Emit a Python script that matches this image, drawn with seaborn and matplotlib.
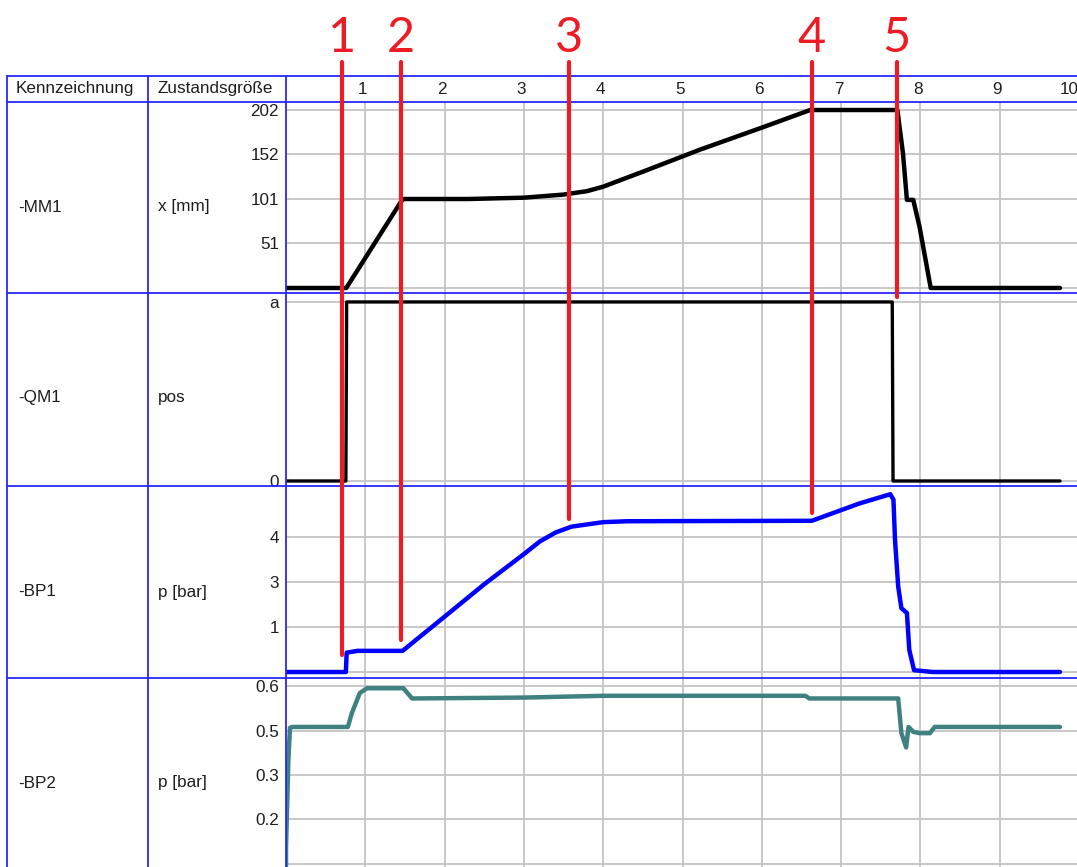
import seaborn as sns
import matplotlib.pyplot as plt
from matplotlib.lines import Line2D
from matplotlib.transforms import blended_transform_factory

sns.set_style("white")
plt.rcParams["font.family"] = ["Liberation Sans", "DejaVu Sans"]

# --- data (time in s, values in the diagram's own units) ---
x_ticks = [1, 2, 3, 4, 5, 6, 7, 8, 9, 10]

mm1_t = [0, 0.76, 1.45, 1.48, 2.3, 3.0, 3.5, 3.8, 4.0, 4.5, 5.22, 6.0, 6.61,
         7.71, 7.78, 7.83, 7.91, 7.99, 8.13, 9.76]
mm1_x = [0, 0, 98, 101, 101, 102.5, 106, 110, 115, 132, 157, 182, 202,
         202, 153, 100, 100, 69, 0, 0]

qm1_t = [0, 0.755, 0.765, 7.645, 7.655, 9.76]
qm1_pos = [0, 0, 1, 1, 0, 0]

bp1_t = [0, 0.755, 0.765, 0.9, 1.47, 2.0, 2.5, 3.0, 3.2, 3.4, 3.6, 4.0, 4.3,
         6.63, 7.24, 7.62, 7.66, 7.68, 7.72, 7.76, 7.83, 7.86, 7.92, 8.16, 9.76]
bp1_p = [0, 0, 0.43, 0.47, 0.47, 1.23, 1.95, 2.62, 2.9, 3.1, 3.23, 3.33, 3.35,
         3.36, 3.75, 3.95, 3.83, 2.93, 1.9, 1.42, 1.31, 0.49, 0.04, 0, 0]

bp2_t = [0, 0.0, 0.03, 0.05, 0.08, 0.78, 0.83, 0.93, 1.02, 1.48, 1.59, 3.0,
         4.0, 6.55, 6.6, 7.72, 7.76, 7.82, 7.85, 7.91, 7.99, 8.12, 8.18, 9.76]
bp2_p = [-0.06, 0.36, 2.34, 3.06, 3.08, 3.08, 3.39, 3.84, 3.95, 3.95, 3.72,
         3.74, 3.78, 3.78, 3.72, 3.72, 2.94, 2.62, 3.08, 2.97, 2.94, 2.94,
         3.08, 3.08]

row_ids = ["-MM1", "-QM1", "-BP1", "-BP2"]
row_vars = ["x [mm]", "pos", "p [bar]", "p [bar]"]
mm1_ticks, mm1_labels = [0, 51, 101, 152, 202], ["", "51", "101", "152", "202"]
qm1_ticks, qm1_labels = [0, 1], ["0", "a"]
bp1_ticks, bp1_labels = [0, 1, 2, 3], ["", "1", "3", "4"]
bp2_ticks, bp2_labels = [0, 1, 2, 3, 4], ["", "0.2", "0.3", "0.5", "0.6"]

steps = [1, 2, 3, 4, 5]
step_t = [0.71, 1.45, 3.57, 6.63, 7.70]
step_end = [655, 640, 519, 513, 297]

W, H = 1077, 867
fig = plt.figure(figsize=(W / 100, H / 100), dpi=100)


def fx(px):
    return px / W


def fy(py):
    return 1 - py / H


BLUE = "#2828ff"
RED = "#ed1c24"
GRID = "#c4c4c4"
TXT = "#1e1e1e"
FS = 12.3
XMAX = (1090 - 286) / 79.3


def row_axes(top, bottom):
    ax = fig.add_axes([fx(286), fy(bottom), fx(1090) - fx(286), fy(top) - fy(bottom)])
    ax.set_xlim(0, XMAX)
    ax.set_xticks(x_ticks)
    ax.set_xticklabels([])
    ax.grid(True, color=GRID, lw=1.3)
    ax.set_axisbelow(True)
    ax.tick_params(length=0, pad=5, labelsize=FS, labelcolor=TXT)
    for s in ax.spines.values():
        s.set_visible(False)
    return ax


rows = [
    (102, 293, mm1_t, mm1_x, "black", 3.2, (-5.7, 211.1), mm1_ticks, mm1_labels),
    (293, 486, qm1_t, qm1_pos, "black", 2.4, (-0.028, 1.05), qm1_ticks, qm1_labels),
    (486, 678, bp1_t, bp1_p, "#0000ff", 3.2, (-0.133, 4.133), bp1_ticks, bp1_labels),
    (678, 880, bp2_t, bp2_p, "#3f8080", 3.2, (-0.36, 4.18), bp2_ticks, bp2_labels),
]

axes = []
for top, bottom, t, v, col, lw, ylim, ticks, labels in rows:
    ax = row_axes(top, bottom)
    sns.lineplot(x=t, y=v, ax=ax, color=col, lw=lw, estimator=None, sort=False)
    ax.set_ylim(*ylim)
    ax.set_yticks(ticks)
    ax.set_yticklabels(labels)
    ax.set_xlabel("")
    ax.set_ylabel("")
    axes.append(ax)

# header with time ticks
hdr = fig.add_axes([fx(286), fy(102), fx(1090) - fx(286), fy(76) - fy(102)])
hdr.set_xlim(0, XMAX)
hdr.set_ylim(0, 1)
hdr.axis("off")
for t in x_ticks:
    pos = t - 0.03 if t < 10 else 9.88
    hdr.text(pos, 0.5, str(t), ha="center", va="center", fontsize=FS, color=TXT)

fig.text(fx(16), fy(89), "Kennzeichnung", va="center", fontsize=FS, color=TXT)
fig.text(fx(158), fy(89), "Zustandsgröße", va="center", fontsize=FS, color=TXT)

label_y = [207, 397, 592, 783]
for name, var, yy in zip(row_ids, row_vars, label_y):
    fig.text(fx(18), fy(yy), name, va="center", fontsize=FS, color=TXT)
    fig.text(fx(158), fy(yy), var, va="center", fontsize=FS, color=TXT)

# table frame
for yy in [76, 102, 293, 486, 678]:
    fig.add_artist(Line2D([fx(7), 1], [fy(yy), fy(yy)], color=BLUE, lw=1.3, zorder=3))
for xx in [7, 148, 286]:
    fig.add_artist(Line2D([fx(xx), fx(xx)], [fy(76), 0], color=BLUE, lw=1.3, zorder=3))

# red step markers
tr = blended_transform_factory(axes[0].transData, fig.transFigure)
for n, t, end in zip(steps, step_t, step_end):
    fig.add_artist(Line2D([t, t], [fy(62), fy(end)], transform=tr, color=RED, lw=3, zorder=10))
    fig.text(t, fy(38), str(n), transform=tr, ha="center", va="center", fontsize=35,
             color=RED, family=["Lato", "DejaVu Sans"], zorder=10)

fig.savefig("out.png", dpi=100)
